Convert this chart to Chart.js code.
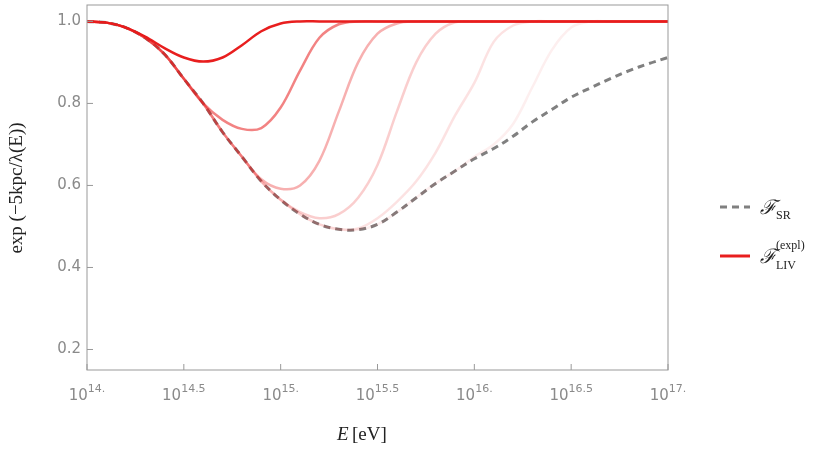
<!DOCTYPE html>
<html>
<head>
<meta charset="utf-8">
<script src="https://cdn.jsdelivr.net/npm/chart.js@4"></script>
<style>
  body { margin: 0; background: #fff; }
  #wrap { width: 830px; height: 453px; }
</style>
</head>
<body>
<div id="wrap"><canvas id="c"></canvas></div>
<script>
// log10(E) grid
const logE = [14.0,14.1,14.2,14.3,14.4,14.5,14.6,14.7,14.8,14.9,15.0,15.1,15.2,15.3,15.4,15.5,15.6,15.7,15.8,15.9,16.0,16.1,16.2,16.3,16.4,16.5,16.6,16.7,16.8,16.9,17.0];
const sr   = [1.0,0.997,0.985,0.96,0.92,0.86,0.80,0.73,0.67,0.61,0.565,0.53,0.505,0.493,0.492,0.505,0.535,0.57,0.605,0.635,0.665,0.69,0.72,0.755,0.785,0.815,0.838,0.86,0.88,0.897,0.912];
const liv1 = [1.0,0.997,0.985,0.963,0.935,0.912,0.902,0.912,0.942,0.976,0.995,1,1,1,1,1,1,1,1,1,1,1,1,1,1,1,1,1,1,1,1];
const liv2 = [1.0,0.997,0.985,0.96,0.92,0.86,0.80,0.76,0.738,0.74,0.79,0.88,0.96,0.993,1,1,1,1,1,1,1,1,1,1,1,1,1,1,1,1,1];
const liv3 = [1.0,0.997,0.985,0.96,0.92,0.86,0.80,0.73,0.67,0.615,0.592,0.6,0.66,0.78,0.9,0.97,0.995,1,1,1,1,1,1,1,1,1,1,1,1,1,1];
const liv4 = [1.0,0.997,0.985,0.96,0.92,0.86,0.80,0.73,0.67,0.61,0.565,0.535,0.52,0.53,0.57,0.65,0.78,0.9,0.97,0.998,1,1,1,1,1,1,1,1,1,1,1];
const liv5 = [1.0,0.997,0.985,0.96,0.92,0.86,0.80,0.73,0.67,0.61,0.565,0.53,0.505,0.493,0.495,0.52,0.56,0.61,0.68,0.77,0.85,0.95,0.99,1,1,1,1,1,1,1,1];
const liv6 = [1.0,0.997,0.985,0.96,0.92,0.86,0.80,0.73,0.67,0.61,0.565,0.53,0.505,0.493,0.492,0.505,0.535,0.57,0.605,0.635,0.67,0.70,0.75,0.84,0.93,0.985,1,1,1,1,1];
const livAlpha = [1, 0.55, 0.35, 0.22, 0.13, 0.07];
const xTicks = [14, 14.5, 15, 15.5, 16, 16.5, 17];
const yTicks = [0.2, 0.4, 0.6, 0.8, 1.0];

function pts(arr) { return arr.map((v, i) => ({ x: logE[i], y: v })); }

const datasets = [liv6, liv5, liv4, liv3, liv2, liv1].map((arr, i) => ({
    data: pts(arr),
    borderColor: 'rgba(232,30,30,' + livAlpha[5 - i] + ')',
    borderWidth: 2.5,
    pointRadius: 0,
    tension: 0.35
}));
datasets.push({
    data: pts(sr),
    borderColor: '#808080',
    borderWidth: 3,
    borderDash: [7, 5],
    pointRadius: 0,
    tension: 0.35
});

const decor = {
    id: 'decor',
    afterDraw(chart) {
        const ctx = chart.ctx, a = chart.chartArea;
        const xs = chart.scales.x, ys = chart.scales.y;
        ctx.save();
        ctx.strokeStyle = '#999';
        ctx.lineWidth = 1;
        ctx.strokeRect(a.left, a.top, a.right - a.left, a.bottom - a.top);
        // ticks
        xTicks.forEach(t => {
            const px = xs.getPixelForValue(t);
            ctx.beginPath(); ctx.moveTo(px, a.bottom); ctx.lineTo(px, a.bottom - 6); ctx.stroke();
            const exp = t.toString().indexOf('.') >= 0 ? t.toString() : t + '.';
            ctx.fillStyle = '#8a8a8a';
            ctx.font = '15px "DejaVu Sans"';
            ctx.textBaseline = 'alphabetic';
            const bw = ctx.measureText('10').width;
            ctx.font = '11px "DejaVu Sans"';
            const ew = ctx.measureText(exp).width;
            const x0 = px - (bw + ew) / 2;
            ctx.font = '15px "DejaVu Sans"';
            ctx.textAlign = 'left';
            ctx.fillText('10', x0, a.bottom + 30);
            ctx.font = '11px "DejaVu Sans"';
            ctx.fillText(exp, x0 + bw, a.bottom + 22);
        });
        yTicks.forEach(t => {
            const py = ys.getPixelForValue(t);
            ctx.beginPath(); ctx.moveTo(a.left, py); ctx.lineTo(a.left + 6, py); ctx.stroke();
            ctx.fillStyle = '#8a8a8a';
            ctx.font = '15px "DejaVu Sans"';
            ctx.textAlign = 'right';
            ctx.textBaseline = 'middle';
            ctx.fillText(t.toFixed(1), a.left - 6, py);
        });
        // axis titles
        ctx.fillStyle = '#222';
        ctx.textBaseline = 'alphabetic';
        ctx.textAlign = 'left';
        ctx.font = 'italic 19px "Liberation Serif"';
        ctx.fillText('E', 337, 440);
        ctx.font = '19px "Liberation Serif"';
        ctx.fillText('[eV]', 352, 440);
        ctx.save();
        ctx.translate(22, 188);
        ctx.rotate(-Math.PI / 2);
        ctx.textAlign = 'center';
        ctx.font = '19px "Liberation Serif"';
        ctx.fillText('exp (\u22125kpc/\u03BB(E))', 0, 0);
        ctx.restore();
        // legend
        ctx.lineWidth = 3;
        ctx.strokeStyle = '#808080';
        ctx.setLineDash([7, 5]);
        ctx.beginPath(); ctx.moveTo(720, 207); ctx.lineTo(750, 207); ctx.stroke();
        ctx.setLineDash([]);
        ctx.strokeStyle = 'rgb(232,30,30)';
        ctx.beginPath(); ctx.moveTo(720, 256); ctx.lineTo(750, 256); ctx.stroke();
        ctx.fillStyle = '#222';
        ctx.font = 'italic 20px "DejaVu Serif"';
        ctx.fillText('\u2131', 760, 214);
        ctx.fillText('\u2131', 760, 263);
        ctx.font = '12px "Liberation Serif"';
        ctx.fillText('SR', 776, 219);
        ctx.fillText('LIV', 776, 269);
        ctx.fillText('(expl)', 776, 249);
        ctx.restore();
    }
};

new Chart(document.getElementById('c'), {
    type: 'line',
    data: { datasets: datasets },
    options: {
        responsive: true,
        maintainAspectRatio: false,
        animation: false,
        layout: { padding: { top: 5, right: 162, left: 0, bottom: 0 } },
        plugins: { legend: { display: false }, tooltip: { enabled: false } },
        scales: {
            x: {
                type: 'linear', min: 14, max: 17,
                grid: { display: false }, border: { display: false },
                ticks: { display: false },
                afterFit(s) { s.height = 83; }
            },
            y: {
                min: 0.15, max: 1.04,
                grid: { display: false }, border: { display: false },
                ticks: { display: false },
                afterFit(s) { s.width = 87; }
            }
        }
    },
    plugins: [decor]
});
</script>
</body>
</html>
